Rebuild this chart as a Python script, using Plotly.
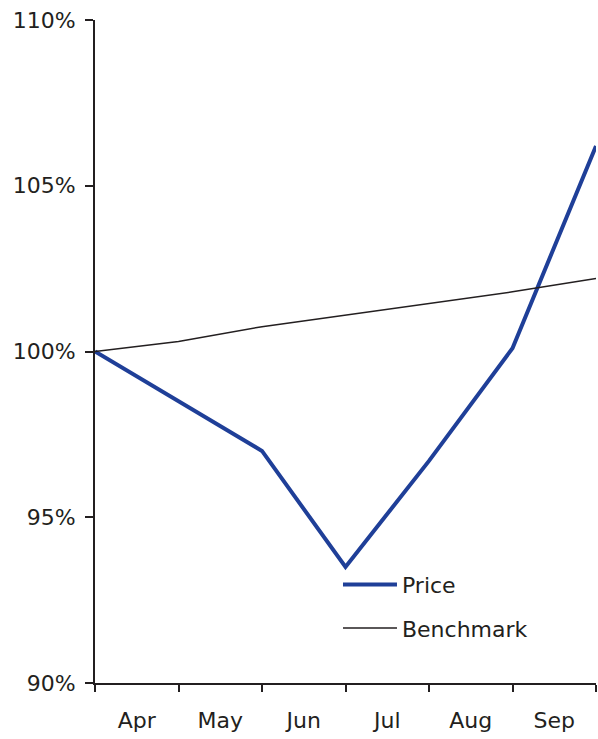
import plotly.graph_objects as go

months = ["Apr", "May", "Jun", "Jul", "Aug", "Sep"]
x_points = [0, 1, 2, 3, 4, 5, 6]
price = [100.0, 98.5, 97.0, 93.5, 96.7, 100.1, 106.2]
benchmark = [100.0, 100.3, 100.75, 101.1, 101.45, 101.8, 102.2]
y_ticks = [90, 95, 100, 105, 110]

ink = "#231f20"
font_family = "DejaVu Sans"

fig = go.Figure()
fig.add_trace(go.Scatter(
    x=x_points, y=price, mode="lines", name="Price",
    line=dict(color="#1f3f98", width=4), legendgroup="a",
))
fig.add_trace(go.Scatter(
    x=x_points, y=benchmark, mode="lines", name="Benchmark",
    line=dict(color=ink, width=1.5), legendgroup="b",
))

fig.update_layout(
    width=598, height=739,
    margin=dict(l=95, r=2, t=20, b=56),
    paper_bgcolor="white", plot_bgcolor="white",
    font=dict(family=font_family, size=22, color=ink),
    showlegend=True,
    legend=dict(x=0.485, y=0.18, xanchor="left", yanchor="top",
                bgcolor="rgba(0,0,0,0)", tracegroupgap=12, itemwidth=54,
                font=dict(size=22, color=ink)),
)
fig.update_xaxes(
    range=[0, 6], showgrid=False, zeroline=False,
    showline=True, linecolor=ink, linewidth=2,
    tickvals=[i + 0.5 for i in range(len(months))], ticktext=months,
    ticks="", tickfont=dict(size=22, color=ink), ticklabelstandoff=17,
    minor=dict(ticks="outside", tick0=0, dtick=1, ticklen=7,
               tickcolor=ink, tickwidth=2, showgrid=False),
)
fig.update_yaxes(
    range=[90, 110], showgrid=False, zeroline=False,
    showline=True, linecolor=ink, linewidth=2,
    tickvals=y_ticks, ticktext=[f"{v}%" for v in y_ticks],
    ticks="outside", ticklen=8, tickcolor=ink, tickwidth=2,
    tickfont=dict(size=22, color=ink), ticklabelstandoff=5,
)

fig.write_html("out.html")
